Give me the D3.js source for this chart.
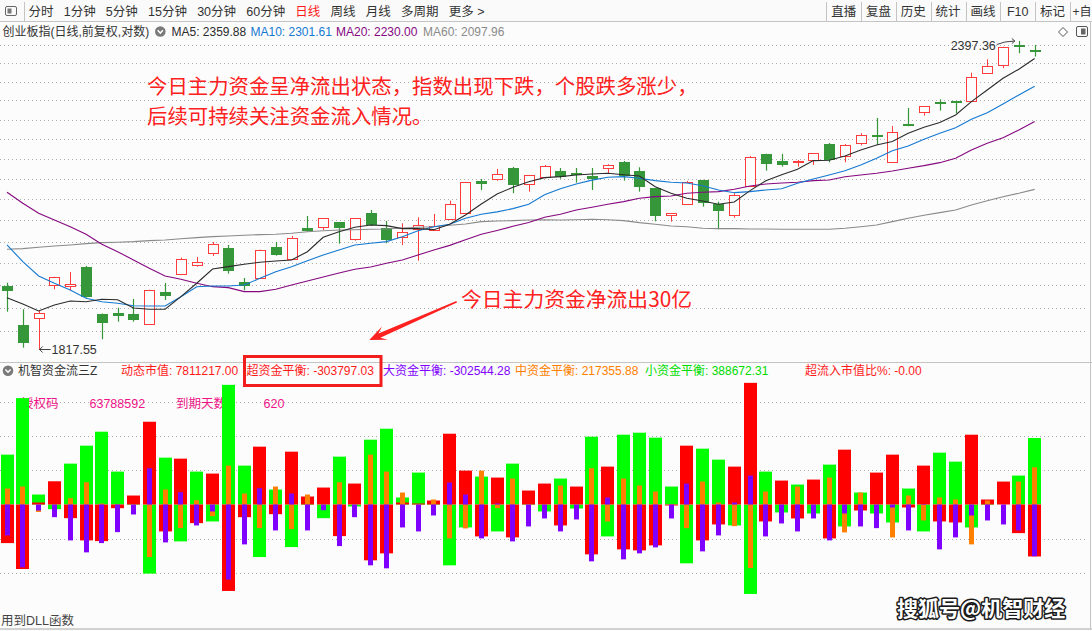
<!DOCTYPE html>
<html>
<head>
<meta charset="utf-8">
<script src="https://cdn.jsdelivr.net/npm/d3@7"></script>
<style>
  html, body { margin: 0; padding: 0; background: #fcfcfc; }
  svg { display: block; font-family: "Liberation Sans", "Noto Sans CJK SC", sans-serif; }
</style>
</head>
<body>
<svg id="chart" width="1092" height="631"></svg>
<script>
// ---------------- daily candles (创业板指, 日线, 前复权) ----------------
const open = [1923.5, 1857.2, 1868.4, 1925.2, 1923.0, 1956.6, 1875.7, 1877.4, 1875.7, 1859.4,
  1913.1, 1944.9, 1959.6, 1980.9, 1990.3, 1930.4, 1937.4, 1992.1, 1970.2, 2026.4,
  2027.7, 2036.9, 2006.0, 2054.0, 2027.0, 2010.7, 2024.6, 2022.3, 2043.5, 2053.4,
  2114.0, 2118.3, 2138.2, 2107.7, 2120.6, 2132.4, 2129.2, 2122.9, 2138.2, 2149.8,
  2132.4, 2100.1, 2049.7, 2070.1, 2115.8, 2070.1, 2049.7, 2105.0, 2165.9, 2152.3,
  2151.0, 2154.2, 2185.4, 2161.4, 2186.8, 2203.2, 2149.8, 2224.5, 2248.6, 2270.2,
  2271.0, 2272.2, 2328.9, 2345.7, 2389.5, 2378.2];
const high = [1929.2, 1883.6, 1880.7, 1939.5, 1947.9, 1958.4, 1876.5, 1886.3, 1901.1, 1917.0,
  1928.7, 1973.1, 1974.3, 2001.1, 1995.7, 1937.4, 1987.3, 2001.1, 2011.9, 2048.4,
  2044.8, 2037.5, 2044.8, 2059.5, 2039.3, 2035.0, 2046.0, 2052.1, 2076.8, 2112.1,
  2117.7, 2136.9, 2140.7, 2125.4, 2144.6, 2138.8, 2138.8, 2138.8, 2145.9, 2152.3,
  2140.1, 2100.7, 2054.0, 2114.0, 2116.2, 2075.0, 2090.7, 2162.0, 2166.4, 2165.9,
  2154.2, 2167.6, 2187.4, 2185.4, 2206.6, 2237.1, 2221.1, 2257.3, 2261.2, 2275.0,
  2271.5, 2330.1, 2358.4, 2385.0, 2397.36, 2388.9];
const low = [1879.6, 1819.7, 1817.55, 1917.8, 1915.4, 1903.4, 1833.5, 1862.7, 1862.7, 1858.4,
  1899.4, 1943.8, 1957.2, 1976.1, 1944.9, 1916.1, 1936.1, 1976.6, 1969.0, 2019.7,
  2022.8, 1998.1, 2003.4, 2030.1, 1998.8, 1995.7, 1967.7, 2021.0, 2042.4, 2052.1,
  2096.9, 2114.5, 2090.7, 2093.7, 2118.7, 2118.3, 2110.7, 2096.9, 2128.6, 2114.5,
  2093.7, 2038.7, 2038.0, 2068.8, 2065.6, 2024.1, 2045.3, 2104.5, 2133.6, 2141.3,
  2141.3, 2144.6, 2149.8, 2149.8, 2182.9, 2183.5, 2149.3, 2220.5, 2241.8, 2251.9,
  2246.6, 2272.0, 2328.5, 2339.4, 2371.1, 2363.9];
const close = [1915.4, 1827.9, 1876.9, 1938.6, 1927.0, 1904.6, 1861.1, 1872.8, 1866.1, 1916.1,
  1906.8, 1970.7, 1965.4, 1997.0, 1950.1, 1924.0, 1986.2, 1977.9, 2007.8, 2021.5,
  2044.2, 2025.2, 2044.2, 2031.9, 2005.2, 2019.2, 2031.4, 2030.7, 2070.7, 2111.5,
  2108.8, 2126.7, 2105.0, 2124.8, 2142.1, 2120.2, 2125.9, 2116.4, 2144.0, 2123.5,
  2101.2, 2047.2, 2053.4, 2112.6, 2073.1, 2056.4, 2086.9, 2159.5, 2147.1, 2145.2,
  2152.3, 2167.2, 2154.8, 2182.9, 2202.6, 2198.6, 2208.6, 2221.7, 2260.8, 2268.2,
  2269.0, 2320.5, 2344.2, 2384.6, 2385.2, 2374.5];

// ---------------- moving averages ----------------
const ma5 = [1903.4, 1892.6, 1880.7, 1890.9, 1897.7, 1896.5, 1900.6, 1899.9, 1885.8, 1883.6,
  1883.6, 1905.1, 1928.2, 1953.1, 1957.2, 1961.4, 1964.9, 1967.2, 1969.0, 1983.7,
  2009.6, 2019.7, 2027.7, 2031.9, 2030.7, 2025.2, 2025.2, 2023.4, 2033.2, 2050.3,
  2070.7, 2089.4, 2102.0, 2112.6, 2120.2, 2122.1, 2125.4, 2127.3, 2128.6, 2125.9,
  2123.5, 2103.1, 2090.7, 2081.3, 2076.3, 2070.1, 2074.4, 2095.6, 2114.5, 2125.9,
  2136.3, 2152.9, 2153.6, 2162.0, 2173.7, 2183.5, 2190.1, 2206.6, 2218.5, 2227.8,
  2243.2, 2270.2, 2294.1, 2318.4, 2337.3, 2359.88];
const ma10 = [1995.7, 1966.0, 1940.9, 1928.2, 1916.6, 1902.3, 1896.5, 1893.8, 1889.7, 1889.2,
  1889.2, 1905.1, 1922.3, 1923.5, 1923.5, 1925.2, 1936.8, 1948.4, 1957.2, 1967.7,
  1977.9, 1986.8, 1995.7, 1998.8, 2001.7, 2010.7, 2021.5, 2028.8, 2033.2, 2044.2,
  2051.6, 2056.0, 2062.0, 2070.0, 2088.0, 2099.0, 2108.0, 2115.5, 2121.0, 2122.1,
  2119.1, 2114.5, 2111.5, 2110.1, 2105.0, 2096.9, 2091.8, 2093.7, 2096.9, 2099.3,
  2109.6, 2117.7, 2125.4, 2133.6, 2144.6, 2157.5, 2172.3, 2181.5, 2194.7, 2206.6,
  2217.7, 2234.5, 2247.8, 2265.5, 2283.9, 2301.61];
const ma20 = [2092.6, 2072.0, 2053.4, 2041.1, 2028.8, 2015.0, 1997.0, 1983.7, 1969.0, 1954.3,
  1940.9, 1935.1, 1928.2, 1922.3, 1920.6, 1913.7, 1913.7, 1917.8, 1925.2, 1932.1,
  1939.1, 1946.2, 1952.6, 1956.6, 1963.2, 1969.0, 1977.9, 1986.8, 1995.0, 2005.0,
  2015.0, 2022.0, 2029.5, 2036.5, 2046.0, 2051.6, 2059.5, 2064.5, 2070.1, 2075.0,
  2081.3, 2084.3, 2085.6, 2090.7, 2092.6, 2093.7, 2098.2, 2104.5, 2108.2, 2110.1,
  2111.5, 2114.5, 2115.8, 2122.1, 2125.4, 2128.6, 2133.0, 2138.2, 2143.2, 2149.0,
  2157.5, 2173.7, 2186.8, 2197.8, 2213.1, 2230.00];
const ma60 = [1988.0, 1989.1, 1991.6, 1993.9, 1995.7, 1998.1, 1999.9, 2000.6, 2001.7, 2003.5,
  2004.7, 2007.0, 2008.9, 2010.7, 2011.9, 2013.2, 2014.3, 2015.0, 2016.8, 2019.7,
  2021.5, 2022.8, 2023.3, 2024.1, 2024.6, 2026.5, 2027.7, 2028.8, 2031.4, 2033.8,
  2038.0, 2039.3, 2039.9, 2041.1, 2041.6, 2041.1, 2041.6, 2042.4, 2041.6, 2039.9,
  2036.2, 2033.2, 2030.1, 2028.8, 2025.9, 2025.2, 2025.2, 2024.6, 2024.6, 2024.1,
  2024.1, 2024.1, 2024.1, 2025.9, 2028.8, 2031.9, 2038.0, 2044.2, 2049.7, 2054.6,
  2059.5, 2068.8, 2076.8, 2084.3, 2090.7, 2097.96];

// ---------------- fund-flow balances (超 / 大 / 中 / 小) ----------------
const flowSuper = [-225660, -377270, 11660, 135860, -79880, -209920, -214000, -21570, 52480, 483970,
  -157440, 268230, -109040, 180760, -505550, -74050, 338200, -56560, 309040, 46650,
  99130, -184840, 122450, -326540, -285720, 11660, 5830, 23320, 414000, 198250,
  -186590, 157440, -192420, 81630, 122450, -122450, 104960, -291550, 221580, -262400,
  -268230, -239070, -5830, 344030, -209920, -116620, 221580, 711380, -99130, 139940,
  -81630, 145780, -198250, 320710, -34990, 186590, 291550, -17490, 227410, -99130,
  -104960, 408170, 29160, 134110, -167350, -303797.03];
const flowLarge = [-180760, -367350, -34990, -74050, -209920, -279890, -225660, -161520, -58310, 211670,
  -221580, 71720, -122450, -40820, -439070, -233240, 95050, -151610, 64140, -151610,
  -33240, -243150, -74050, -355690, -373180, -134110, -157440, -64140, 128280, 58310,
  -198250, 5830, -215750, -128280, -81630, -157440, -87470, -332370, 40820, -320710,
  -285720, -250730, -81630, 122450, -274060, -180760, 11660, 169100, -186590, -110790,
  -157440, -81630, -209920, -52480, -128280, -138190, -17490, -151610, -2920, -262400,
  -192420, -64140, -93300, -116620, -151610, -302544.28];
const flowMid = [93300, 104960, -43730, -34990, 36740, 130030, 5830, -9330, -2920, -307290,
  87470, -138190, 25070, -68220, 227410, 64140, -138190, 104960, -144030, 58310,
  2920, 130030, -34990, 291550, 192420, 69970, -40820, 29160, -198250, -139940,
  198250, -21570, 151610, 2920, -17490, 110790, -11660, 211670, -99130, 151610,
  110790, 75800, -29160, -138190, 134110, 11660, -126530, -371430, 75800, -2920,
  104960, -29160, 157440, -163270, 69970, -11660, -192420, 52480, -93300, 40820,
  29160, -233240, 23320, -34990, 134110, 217355.88];
const flowSmall = [291550, 622170, 58310, -27410, 239070, 344030, 425660, 192420, 5830, -404090,
  274060, -215750, 192420, -99130, 699720, 227410, -307290, 87470, -248980, 40820,
  -79880, 279890, -11660, 379020, 443160, 40820, 186590, 2920, -355690, -134110,
  163270, -157440, 239070, 29160, -40820, 151610, -23320, 396510, -186590, 408170,
  419830, 390680, 104960, -344030, 326540, 262400, -122450, -523040, 192420, -46650,
  116620, -52480, 233240, -128280, 69970, -52480, -104960, 93300, -157440, 303210,
  250730, -134110, 23320, 0, 169100, 388672.31];
const flowTicks = [600000, 400000, 200000, -200000, -400000];

// ---------------- header texts ----------------
const periodTabs = ["分时", "1分钟", "5分钟", "15分钟", "30分钟", "60分钟", "日线", "周线", "月线", "多周期", "更多 >"];
const activeTab = "日线";
const toolButtons = ["直播", "复盘", "历史", "统计", "画线", "F10", "标记"];
const toolMore = "+自";
const indexTitle = "创业板指(日线,前复权,对数)";
const marketValue = 7811217.00;
const superRatio = "-0.00";
const licenseCode = "63788592";
const daysLeft = 620;
const noteLines = ["今日主力资金呈净流出状态，指数出现下跌，个股跌多涨少，", "后续可持续关注资金流入情况。"];
const noteOutflow = "今日主力资金净流出30亿";

// ---------------- setup ----------------
const W = 1092, H = 631, N = close.length;
const svg = d3.select("#chart");
const BG = "#fcfcfc", RED = "#ff3b3b", GREEN = "#36973a";
const fmt2 = v => v.toFixed(2);

svg.append("rect").attr("width", W).attr("height", H).attr("fill", BG);

const x = d3.scaleBand().domain(d3.range(N)).range([-0.905, 1042.555]);
const cx = i => x(i) + x.bandwidth() / 2;
const yMain = d3.scaleLog().domain([1817.55, 2397.36]).range([349, 41]);
const yFlow = d3.scaleLinear().domain([0, 200000]).range([504.5, 470.3]);

// ---------------- toolbar ----------------
const bar = svg.append("g");
bar.append("rect").attr("width", W).attr("height", 21).attr("fill", "#fafafa");
bar.append("line").attr("x1", 0).attr("x2", W).attr("y1", 21.5).attr("y2", 21.5).attr("stroke", "#c4c4c4");
bar.append("rect").attr("x", 5.5).attr("y", 6.5).attr("width", 11).attr("height", 9).attr("rx", 1.5)
  .attr("fill", "none").attr("stroke", "#666");
bar.append("rect").attr("x", 7.5).attr("y", 8.5).attr("width", 4).attr("height", 5).attr("fill", "#777");
bar.append("line").attr("x1", 24.5).attr("x2", 24.5).attr("y1", 2).attr("y2", 21).attr("stroke", "#c4c4c4");

let tx = 28.5;
periodTabs.forEach(t => {
  const el = bar.append("text").attr("x", tx).attr("y", 11.5).attr("dominant-baseline", "central")
    .attr("font-size", 12.5).attr("fill", t === activeTab ? "#ff1a1a" : "#333").text(t);
  tx += el.node().getComputedTextLength() + 10.2;
});

const btnX0 = 826.3, btnW = 34.8;
toolButtons.forEach((t, i) => {
  bar.append("line").attr("x1", Math.round(btnX0 + i * btnW) + 0.5).attr("x2", Math.round(btnX0 + i * btnW) + 0.5)
    .attr("y1", 2).attr("y2", 21).attr("stroke", "#c4c4c4");
  bar.append("text").attr("x", btnX0 + (i + 0.5) * btnW).attr("y", 11.5).attr("text-anchor", "middle")
    .attr("dominant-baseline", "central").attr("font-size", 12.5).attr("fill", "#333").text(t);
});
{
  const xm = btnX0 + toolButtons.length * btnW;
  bar.append("line").attr("x1", Math.round(xm) + 0.5).attr("x2", Math.round(xm) + 0.5)
    .attr("y1", 2).attr("y2", 21).attr("stroke", "#c4c4c4");
  bar.append("text").attr("x", xm + 2.5).attr("y", 11.5).attr("dominant-baseline", "central")
    .attr("font-size", 12).attr("fill", "#333").text(toolMore);
}

// ---------------- main chart header row ----------------
const head = svg.append("g").attr("font-size", 12);
head.append("text").attr("x", 2.5).attr("y", 31.5).attr("dominant-baseline", "central").attr("fill", "#333").text(indexTitle);
function chevronIcon(g, cxp, cyp) {
  g.append("circle").attr("cx", cxp).attr("cy", cyp).attr("r", 5.3).attr("fill", "#7a7a7a");
  g.append("path").attr("d", `M${cxp - 2.6},${cyp - 1.2} L${cxp},${cyp + 1.6} L${cxp + 2.6},${cyp - 1.2}`)
    .attr("fill", "none").attr("stroke", "#fff").attr("stroke-width", 1.4);
}
chevronIcon(head, 160.3, 31.5);
const maSpecs = [
  { name: "MA5", data: ma5, color: "#2b2b2b", lx: 171.5 },
  { name: "MA10", data: ma10, color: "#1479d2", lx: 250.5 },
  { name: "MA20", data: ma20, color: "#85087f", lx: 336 },
  { name: "MA60", data: ma60, color: "#8a8a8a", lx: 423 }
];
maSpecs.forEach(m => {
  head.append("text").attr("x", m.lx).attr("y", 31.5).attr("dominant-baseline", "central")
    .attr("fill", m.color).text(`${m.name}: ${fmt2(m.data[N - 1])}`);
});
// right-side small icons
head.append("path").attr("d", "M1063,27.5 L1067.5,32 L1063,36.5 L1058.5,32 Z").attr("fill", "none").attr("stroke", "#555");
head.append("rect").attr("x", 1076.5).attr("y", 26.5).attr("width", 11).attr("height", 10).attr("rx", 1.5)
  .attr("fill", "none").attr("stroke", "#555");
head.append("rect").attr("x", 1081).attr("y", 28.5).attr("width", 4.5).attr("height", 6).attr("fill", "#666");

// ---------------- main chart grid ----------------
const gridValues = d3.range(15).map(k => 1847.2 + 38.68 * k);
svg.append("g").selectAll("line").data(gridValues).join("line")
  .attr("x1", 0).attr("x2", 1088)
  .attr("y1", d => Math.round(yMain(d)) + 0.5).attr("y2", d => Math.round(yMain(d)) + 0.5)
  .attr("stroke", "#aeaeae").attr("stroke-dasharray", "1,3");

// ---------------- candles ----------------
const cg = svg.append("g");
d3.range(N).forEach(i => {
  const c = Math.round(cx(i));
  const up = close[i] >= open[i];
  const yt = yMain(Math.max(open[i], close[i]));
  const yb = yMain(Math.min(open[i], close[i]));
  const yh = yMain(high[i]), yl = yMain(low[i]);
  if (up) {
    const top = Math.round(yt), h = Math.max(1, Math.round(yb) - top);
    cg.append("line").attr("x1", c + 0.5).attr("x2", c + 0.5).attr("y1", yh).attr("y2", top + 0.5)
      .attr("stroke", RED);
    cg.append("line").attr("x1", c + 0.5).attr("x2", c + 0.5).attr("y1", top + h + 0.5).attr("y2", yl)
      .attr("stroke", RED);
    cg.append("rect").attr("x", c - 4.5).attr("y", top + 0.5).attr("width", 10).attr("height", h)
      .attr("fill", BG).attr("stroke", RED);
  } else {
    cg.append("line").attr("x1", c + 0.5).attr("x2", c + 0.5).attr("y1", yh).attr("y2", yl)
      .attr("stroke", GREEN).attr("stroke-width", 1.2);
    cg.append("rect").attr("x", c - 5).attr("y", Math.round(yt)).attr("width", 11)
      .attr("height", Math.max(2, Math.round(yb - yt))).attr("fill", GREEN);
  }
});

// ---------------- moving average lines ----------------
const maLine = d3.line().x((d, i) => cx(i)).y(d => yMain(d));
[...maSpecs].reverse().forEach(m => {
  svg.append("path").attr("d", maLine(m.data)).attr("fill", "none")
    .attr("stroke", m.color).attr("stroke-width", 1.1);
});

// ---------------- extreme price markers ----------------
const iMax = d3.maxIndex(high), iMin = d3.minIndex(low);
const mk = svg.append("g").attr("font-size", 12.5).attr("fill", "#333");
{
  const px = cx(iMax), py = yMain(high[iMax]);
  mk.append("text").attr("x", px - 23).attr("y", py + 4.5).attr("text-anchor", "end")
    .attr("dominant-baseline", "central").text(fmt2(high[iMax]));
  mk.append("path").attr("d", `M${px - 22},${py + 3.5} L${px - 14},${py + 1} L${px - 4},${py}`)
    .attr("fill", "none").attr("stroke", "#444");
  mk.append("path").attr("d", `M${px - 7},${py - 2.5} L${px - 4},${py} L${px - 7},${py + 2.5}`)
    .attr("fill", "none").attr("stroke", "#444");
}
{
  const px = cx(iMin), py = yMain(low[iMin]);
  mk.append("line").attr("x1", px + 0.5).attr("x2", px + 12).attr("y1", py + 0.5).attr("y2", py + 0.5).attr("stroke", "#444");
  mk.append("path").attr("d", `M${px + 4},${py - 2.5} L${px + 1},${py + 0.5} L${px + 4},${py + 3.5}`)
    .attr("fill", "none").attr("stroke", "#444");
  mk.append("text").attr("x", px + 13).attr("y", py + 1).attr("dominant-baseline", "central").text(fmt2(low[iMin]));
}

// ---------------- commentary ----------------
const note = svg.append("g").attr("font-family", "Noto Sans CJK SC").attr("fill", "#ff2020");
noteLines.forEach((t, k) => {
  note.append("text").attr("x", 147).attr("y", 85 + 30 * k).attr("dominant-baseline", "central")
    .attr("font-size", 20.4).text(t);
});
note.append("text").attr("x", 461).attr("y", 298).attr("dominant-baseline", "central")
  .attr("font-size", 20.8).text(noteOutflow);
{
  // tapered pointer toward the fund-flow panel
  const tail = [456.7, 301.7], tip = [369.3, 340];
  const dx = tip[0] - tail[0], dy = tip[1] - tail[1], L = Math.hypot(dx, dy);
  const u = [dx / L, dy / L], n = [-u[1], u[0]];
  const P = (p, a, b) => [p[0] - u[0] * a + n[0] * b, p[1] - u[1] * a + n[1] * b];
  const pts = [P(tail, 0, 0.8), P(tip, 11, 2.3), P(tip, 17, 7.2), tip, P(tip, 17, -7.2), P(tip, 11, -2.3), P(tail, 0, -0.8)];
  note.append("path").attr("d", "M" + pts.map(p => p.join(",")).join("L") + "Z").attr("fill", "#ff2020");
}

// ---------------- panel separators / frame ----------------
svg.append("line").attr("x1", 0).attr("x2", W).attr("y1", 362.5).attr("y2", 362.5).attr("stroke", "#c4c4c4");
svg.append("line").attr("x1", 1090.5).attr("x2", 1090.5).attr("y1", 21).attr("y2", 629).attr("stroke", "#c4c4c4");
svg.append("line").attr("x1", 0).attr("x2", W).attr("y1", 629).attr("y2", 629).attr("stroke", "#c4c4c4").attr("stroke-width", 1.5);

// ---------------- fund-flow panel header ----------------
const fh = svg.append("g").attr("font-size", 12);
chevronIcon(fh, 8, 370.7);
fh.append("text").attr("x", 18).attr("y", 370.7).attr("dominant-baseline", "central").attr("fill", "#333").text("机智资金流三Z");
const flowLabels = [
  { text: `动态市值: ${fmt2(marketValue)}`, color: "#ff1a1a", lx: 121 },
  { text: `超资金平衡: ${fmt2(flowSuper[N - 1])}`, color: "#ff1a1a", lx: 246.5 },
  { text: `大资金平衡: ${fmt2(flowLarge[N - 1])}`, color: "#8000ff", lx: 383 },
  { text: `中资金平衡: ${fmt2(flowMid[N - 1])}`, color: "#ff8000", lx: 515 },
  { text: `小资金平衡: ${fmt2(flowSmall[N - 1])}`, color: "#00dd00", lx: 645 },
  { text: `超流入市值比%: ${superRatio}`, color: "#ff1a1a", lx: 805 }
];
flowLabels.forEach(l => {
  fh.append("text").attr("x", l.lx).attr("y", 370.7).attr("dominant-baseline", "central")
    .attr("fill", l.color).text(l.text);
});

// ---------------- fund-flow grid and info line ----------------
svg.append("g").selectAll("line").data(flowTicks).join("line")
  .attr("x1", 0).attr("x2", 1088)
  .attr("y1", d => Math.round(yFlow(d)) + 0.5).attr("y2", d => Math.round(yFlow(d)) + 0.5)
  .attr("stroke", "#aeaeae").attr("stroke-dasharray", "1,3");
const info = svg.append("g").attr("font-size", 12.5).attr("fill", "#ee1489");
[["授权码", 21], [licenseCode, 89.5], ["到期天数", 176], [String(daysLeft), 263.5]].forEach(([t, lx]) => {
  info.append("text").attr("x", lx).attr("y", 403.7).attr("dominant-baseline", "central").text(t);
});

// ---------------- fund-flow bars ----------------
const fb = svg.append("g");
const flowSeries = [
  { data: flowSmall, color: "#00ff00", w: 13 },
  { data: flowSuper, color: "#ff0000", w: 13 },
  { data: flowMid, color: "#ff8000", w: 5 },
  { data: flowLarge, color: "#8000ff", w: 5 }
];
flowSeries.forEach(s => {
  fb.append("g").selectAll("rect").data(s.data).join("rect")
    .attr("x", (d, i) => Math.round(cx(i) - s.w / 2))
    .attr("width", s.w)
    .attr("y", d => Math.min(yFlow(0), yFlow(d)))
    .attr("height", d => Math.abs(yFlow(d) - yFlow(0)))
    .attr("fill", s.color);
});

// highlight box around the super-fund balance
svg.append("rect").attr("x", 244.5).attr("y", 356.5).attr("width", 136.5).attr("height", 29)
  .attr("fill", "none").attr("stroke", "#f21d1d").attr("stroke-width", 3);

// ---------------- footer ----------------
svg.append("text").attr("x", 1).attr("y", 621).attr("dominant-baseline", "central")
  .attr("font-size", 12.5).attr("fill", "#444").text("用到DLL函数");
svg.append("text").attr("x", 897).attr("y", 607).attr("dominant-baseline", "central")
  .attr("font-family", "Noto Sans CJK SC").attr("font-weight", "bold").attr("font-size", 21)
  .attr("fill", "#fff").attr("stroke", "#1a1a1a").attr("stroke-width", 3).attr("paint-order", "stroke")
  .attr("stroke-linejoin", "round").text("搜狐号@机智财经");
</script>
</body>
</html>
